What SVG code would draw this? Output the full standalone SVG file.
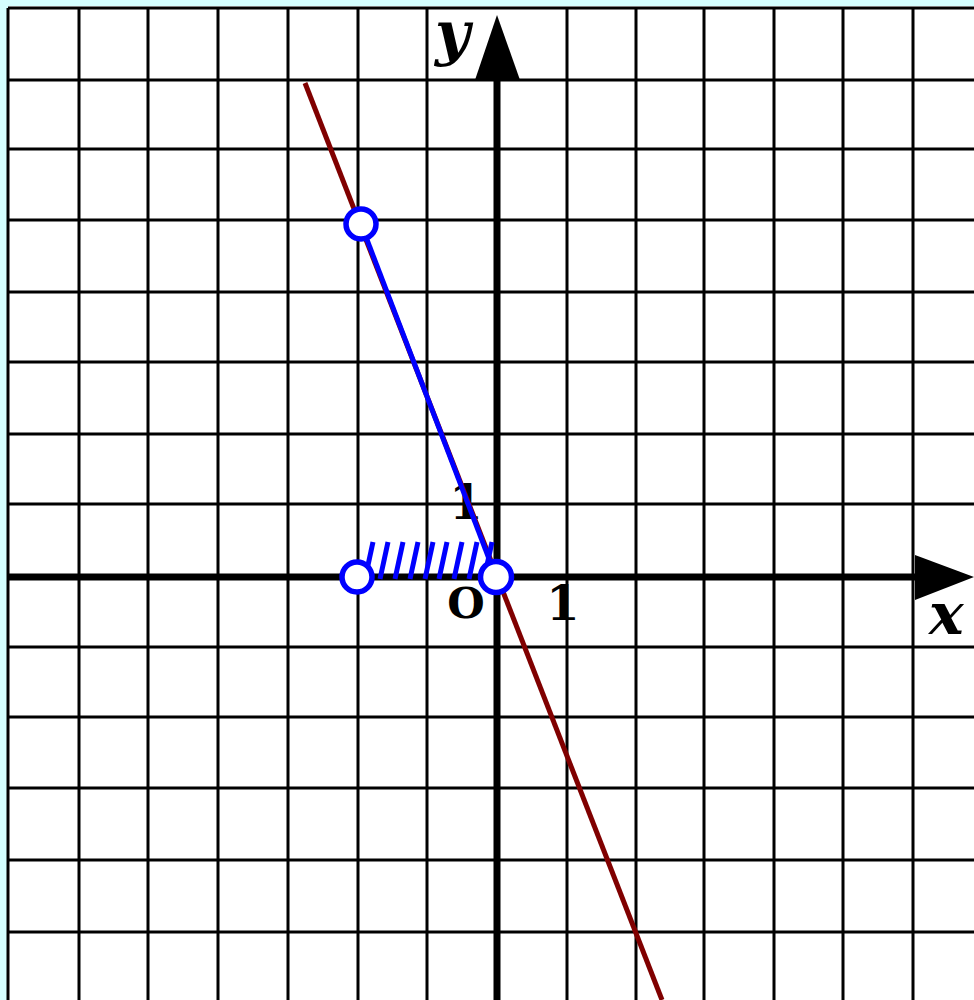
<svg xmlns="http://www.w3.org/2000/svg" width="974" height="1000" viewBox="0 0 974 1000">
<style>
.grid line{stroke:#000;stroke-width:3}
.axis{stroke:#000;stroke-width:7}
.lbl{font-family:"DejaVu Serif","Liberation Serif",serif;font-weight:bold;fill:#000}
.var{font-style:italic}
.hatch line{stroke:#0000ff;stroke-width:5}
.pt{fill:#fff;stroke:#0000ff;stroke-width:5.5}
</style>
<rect x="0" y="0" width="974" height="1000" fill="#d4ffff"/>
<rect x="8" y="6" width="966" height="994" fill="#fff"/>
<g id="grid" class="grid">
<line x1="8" y1="8" x2="8" y2="1000"/>
<line x1="79" y1="8" x2="79" y2="1000"/>
<line x1="148" y1="8" x2="148" y2="1000"/>
<line x1="218" y1="8" x2="218" y2="1000"/>
<line x1="288" y1="8" x2="288" y2="1000"/>
<line x1="358" y1="8" x2="358" y2="1000"/>
<line x1="427" y1="8" x2="427" y2="1000"/>
<line x1="567" y1="8" x2="567" y2="1000"/>
<line x1="636" y1="8" x2="636" y2="1000"/>
<line x1="704" y1="8" x2="704" y2="1000"/>
<line x1="774" y1="8" x2="774" y2="1000"/>
<line x1="843" y1="8" x2="843" y2="1000"/>
<line x1="913" y1="8" x2="913" y2="1000"/>
<line x1="8" y1="8" x2="974" y2="8"/>
<line x1="8" y1="80" x2="974" y2="80"/>
<line x1="8" y1="149" x2="974" y2="149"/>
<line x1="8" y1="220" x2="974" y2="220"/>
<line x1="8" y1="292" x2="974" y2="292"/>
<line x1="8" y1="362" x2="974" y2="362"/>
<line x1="8" y1="434" x2="974" y2="434"/>
<line x1="8" y1="504" x2="974" y2="504"/>
<line x1="8" y1="647" x2="974" y2="647"/>
<line x1="8" y1="717" x2="974" y2="717"/>
<line x1="8" y1="788" x2="974" y2="788"/>
<line x1="8" y1="860" x2="974" y2="860"/>
<line x1="8" y1="932" x2="974" y2="932"/>
</g>
<g id="axes">
<line class="axis" x1="8" y1="577" x2="918" y2="577"/>
<polygon points="915,555 915,600 974,577" fill="#000"/>
<line class="axis" x1="497" y1="1000" x2="497" y2="78"/>
<polygon points="475,80 520,80 497,15" fill="#000"/>
</g>
<g id="labels">
<text class="lbl var" x="435" y="54" font-size="60">y</text>
<text class="lbl var" x="929" y="634" font-size="58">x</text>
<text class="lbl" x="466" y="618" font-size="43" text-anchor="middle">O</text>
<text class="lbl" x="563" y="620" font-size="48" text-anchor="middle">1</text>
<text class="lbl" x="466" y="519" font-size="48" text-anchor="middle">1</text>
</g>
<g id="connectors">
<line x1="305" y1="83" x2="662" y2="1000" stroke="#800000" stroke-width="5"/>
<line x1="361" y1="224" x2="496" y2="577" stroke="#0000ff" stroke-width="5"/>
<g class="hatch">
<line x1="373" y1="542" x2="365" y2="579"/>
<line x1="388" y1="542" x2="380" y2="579"/>
<line x1="403" y1="542" x2="395" y2="579"/>
<line x1="418" y1="542" x2="410" y2="579"/>
<line x1="433" y1="542" x2="425" y2="579"/>
<line x1="447" y1="542" x2="439" y2="579"/>
<line x1="462" y1="542" x2="454" y2="579"/>
<line x1="477" y1="542" x2="469" y2="579"/>
<line x1="492" y1="542" x2="484" y2="579"/>
</g>
</g>
<g id="point-top"><circle class="pt" cx="361" cy="224" r="15"/></g>
<g id="point-left"><circle class="pt" cx="357" cy="577" r="15"/></g>
<g id="point-origin"><circle class="pt" cx="496" cy="577" r="15.5"/></g>
</svg>
